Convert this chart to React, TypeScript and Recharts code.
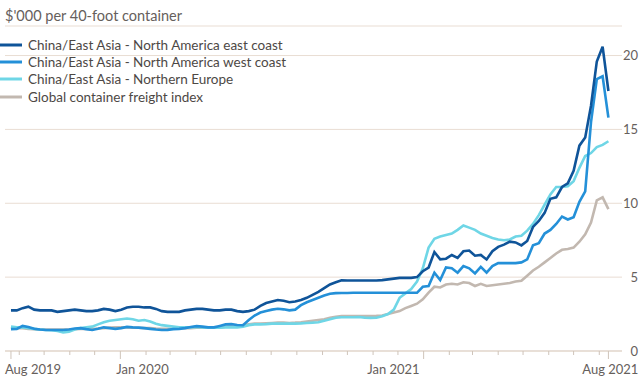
import React from 'react';
import { LineChart, Line, XAxis, YAxis, CartesianGrid, Legend } from 'recharts';

// Weekly observations, first week = 22 Aug 2019
const START_DATE = Date.UTC(2019, 7, 22);
const DAY_MS = 86400000;

const eastCoast = [
  2.75, 2.75, 2.9, 3.0, 2.8, 2.75, 2.75, 2.75, 2.65, 2.7,
  2.75, 2.8, 2.75, 2.7, 2.7, 2.75, 2.85, 2.8, 2.7, 2.8,
  2.95, 3.0, 3.0, 2.95, 2.95, 2.85, 2.7, 2.65, 2.65, 2.65,
  2.75, 2.8, 2.85, 2.85, 2.8, 2.75, 2.75, 2.8, 2.8, 2.7,
  2.65, 2.7, 2.8, 3.05, 3.25, 3.35, 3.45, 3.4, 3.3, 3.35,
  3.45, 3.6, 3.8, 4.0, 4.25, 4.5, 4.65, 4.78, 4.77, 4.77,
  4.77, 4.77, 4.77, 4.77, 4.8, 4.85, 4.9, 4.95, 4.95, 4.95,
  5.0, 5.4, 5.65, 6.7, 6.2, 6.25, 6.5, 6.3, 6.75, 6.8,
  6.45, 6.5, 6.2, 6.75, 7.05, 7.2, 7.4, 7.35, 7.15, 7.45,
  8.4, 8.8, 9.35, 10.3, 10.4, 11.1, 11.35, 12.2, 13.9, 14.45,
  16.6, 19.6, 20.6, 17.6,
];

const westCoast = [
  1.48, 1.5, 1.7, 1.62, 1.5, 1.45, 1.42, 1.42, 1.42, 1.42,
  1.45, 1.52, 1.55, 1.48, 1.42, 1.5, 1.6, 1.55, 1.5, 1.55,
  1.63, 1.6, 1.58, 1.55, 1.5, 1.45, 1.42, 1.43, 1.48, 1.5,
  1.55, 1.62, 1.68, 1.65, 1.6, 1.6, 1.7, 1.8, 1.82, 1.76,
  1.74, 2.1, 2.4, 2.6, 2.7, 2.8, 2.86, 2.82, 2.75, 2.8,
  3.1, 3.3, 3.45, 3.6, 3.75, 3.87, 3.92, 3.93, 3.93, 3.94,
  3.94, 3.94, 3.94, 3.94, 3.94, 3.94, 3.94, 3.94, 3.94, 3.94,
  3.94, 4.35, 4.4, 5.3, 4.8, 5.65, 5.6, 5.3, 5.75, 5.6,
  5.25, 5.7, 5.3, 5.75, 5.95, 5.95, 5.95, 5.95, 6.0, 6.2,
  7.15, 7.3, 7.95, 8.2, 8.6, 9.1, 8.9, 9.05, 10.1, 10.8,
  15.5, 18.4, 18.6, 15.8,
];

const northernEurope = [
  1.65, 1.6, 1.6, 1.55, 1.5, 1.45, 1.42, 1.4, 1.35, 1.25,
  1.3, 1.45, 1.55, 1.6, 1.65, 1.8, 1.95, 2.05, 2.1, 2.15,
  2.2, 2.15, 2.05, 2.1, 2.0, 1.85, 1.75, 1.7, 1.65, 1.6,
  1.6, 1.6, 1.62, 1.6, 1.58, 1.57, 1.57, 1.6, 1.6, 1.6,
  1.65, 1.75, 1.8, 1.8, 1.82, 1.85, 1.85, 1.85, 1.85, 1.85,
  1.87, 1.9, 1.92, 1.95, 2.05, 2.15, 2.25, 2.28, 2.28, 2.28,
  2.3, 2.26, 2.24, 2.25, 2.35, 2.5, 2.8, 3.6, 3.9, 4.2,
  4.7, 5.6, 7.0, 7.6, 7.75, 7.85, 7.95, 8.2, 8.5, 8.35,
  8.2, 7.95, 7.8, 7.65, 7.55, 7.5, 7.55, 7.75, 7.8, 8.15,
  8.6, 9.2, 9.9, 10.6, 11.1, 11.1, 11.15, 11.5, 12.4, 13.2,
  13.4, 13.8, 13.95, 14.2,
];

const globalIndex = [
  1.6, 1.55, 1.55, 1.5, 1.48, 1.45, 1.45, 1.45, 1.45, 1.45,
  1.45, 1.47, 1.5, 1.5, 1.5, 1.52, 1.55, 1.58, 1.6, 1.6,
  1.6, 1.58, 1.57, 1.55, 1.55, 1.52, 1.5, 1.5, 1.52, 1.55,
  1.55, 1.55, 1.57, 1.58, 1.58, 1.58, 1.6, 1.65, 1.65, 1.68,
  1.75, 1.8, 1.85, 1.85, 1.88, 1.9, 1.92, 1.92, 1.9, 1.92,
  1.95, 2.0, 2.05, 2.1, 2.15, 2.25, 2.32, 2.37, 2.37, 2.36,
  2.36, 2.37, 2.37, 2.38, 2.4, 2.5, 2.6, 2.7, 2.9, 3.05,
  3.2, 3.5, 3.95, 4.35, 4.3, 4.5, 4.55, 4.5, 4.65, 4.6,
  4.4, 4.55, 4.4, 4.45, 4.5, 4.55, 4.6, 4.7, 4.75, 5.1,
  5.45, 5.7, 6.0, 6.3, 6.6, 6.85, 6.9, 7.0, 7.4, 7.9,
  8.7, 10.2, 10.4, 9.6,
];

const seriesNames = [
  'China/East Asia - North America east coast',
  'China/East Asia - North America west coast',
  'China/East Asia - Northern Europe',
  'Global container freight index',
];
const seriesKeys = ['east', 'west', 'europe', 'global'];
const seriesColors = ['#0f5499', '#2490d8', '#6fd6e6', '#c2b8b0'];

const yTicks = [0, 5, 10, 15, 20];
const xLabels = ['Aug 2019', 'Jan 2020', 'Jan 2021', 'Aug 2021'];
const titleText = "$'000 per 40-foot container";

const FONT = 'Lato, "Noto Sans", sans-serif';
const TEXT_GREY = '#66605c';

const data = eastCoast.map((v, i) => ({
  t: i * 7,
  east: v,
  west: westCoast[i],
  europe: northernEurope[i],
  global: globalIndex[i],
}));

const lastT = (eastCoast.length - 1) * 7;
const dayOf = (y: number, m: number) => Math.round((Date.UTC(y, m, 1) - START_DATE) / DAY_MS);

const monthTicks: number[] = [];
for (let k = 0; k < 24; k++) {
  const y = 2019 + Math.floor((8 + k) / 12);
  const m = (8 + k) % 12;
  monthTicks.push(dayOf(y, m));
}
const xTicks = [0, ...monthTicks, lastT];
const majorTicks = [0, dayOf(2020, 0), dayOf(2021, 0), lastT];
const labelPlacement = [
  { dx: -6, anchor: 'start' },
  { dx: -4, anchor: 'start' },
  { dx: -4, anchor: 'end' },
  { dx: 30, anchor: 'end' },
];

const XTick = (props: any) => {
  const { x, y, payload } = props;
  const idx = majorTicks.indexOf(payload.value);
  const major = idx >= 0;
  return (
    <g>
      <line x1={x} x2={x} y1={y} y2={y + (major ? 8 : 4)} stroke="#cfc4ba" strokeWidth={1} />
      {major && (
        <text
          x={x + labelPlacement[idx].dx}
          y={y + 23}
          textAnchor={labelPlacement[idx].anchor as any}
          fill={TEXT_GREY}
          fontSize={13}
          fontFamily={FONT}
        >
          {xLabels[idx]}
        </text>
      )}
    </g>
  );
};

const YTick = (props: any) => {
  const { x, y, payload } = props;
  return (
    <text x={x + 16} y={y} dy={4.5} textAnchor="end" fill={TEXT_GREY} fontSize={13} fontFamily={FONT}>
      {payload.value}
    </text>
  );
};

const renderLegend = () => (
  <div style={{ fontFamily: FONT, fontSize: 13.5, color: '#4d4845' }}>
    {seriesNames.map((name, i) => (
      <div key={name} style={{ display: 'flex', alignItems: 'center', height: 17.3, whiteSpace: 'nowrap' }}>
        <svg width={22} height={4} style={{ display: 'block' }}>
          <line x1={0} x2={22} y1={2} y2={2} stroke={seriesColors[i]} strokeWidth={3} />
        </svg>
        <span style={{ marginLeft: 6 }}>{name}</span>
      </div>
    ))}
  </div>
);

export default function App() {
  const drawOrder = [3, 2, 1, 0];
  return (
    <div style={{ position: 'relative', width: 640, height: 386, background: '#fff' }}>
      <style>{`body{margin:0;}`}</style>
      <div
        style={{
          position: 'absolute',
          top: 7,
          left: 5,
          fontFamily: FONT,
          fontSize: 14.5,
          lineHeight: '18px',
          color: TEXT_GREY,
          zIndex: 2,
        }}
      >
        {titleText}
      </div>
      <LineChart width={640} height={386} data={data} margin={{ top: 26, right: 0, bottom: 0, left: 5 }}>
        <CartesianGrid vertical={false} stroke="#e9ddd3" />
        <XAxis
          dataKey="t"
          type="number"
          domain={[-7.2, lastT + 16.4]}
          allowDataOverflow
          ticks={xTicks}
          interval={0}
          tick={<XTick />}
          tickSize={0}
          tickMargin={0}
          tickLine={false}
          axisLine={{ stroke: '#ddd1c6' }}
          height={35}
        />
        <YAxis
          orientation="right"
          domain={[0, 22]}
          ticks={yTicks}
          interval={0}
          tick={<YTick />}
          tickSize={0}
          tickMargin={0}
          tickLine={false}
          axisLine={false}
          width={18}
          allowDataOverflow
        />
        <Legend
          content={renderLegend}
          layout="horizontal"
          verticalAlign="middle"
          align="center"
          wrapperStyle={{ top: 36, left: 0, width: 320 }}
        />
        {drawOrder.map((i) => (
          <Line
            key={seriesKeys[i]}
            type="linear"
            dataKey={seriesKeys[i]}
            name={seriesNames[i]}
            stroke={seriesColors[i]}
            strokeWidth={2.6}
            dot={false}
            isAnimationActive={false}
          />
        ))}
      </LineChart>
    </div>
  );
}
